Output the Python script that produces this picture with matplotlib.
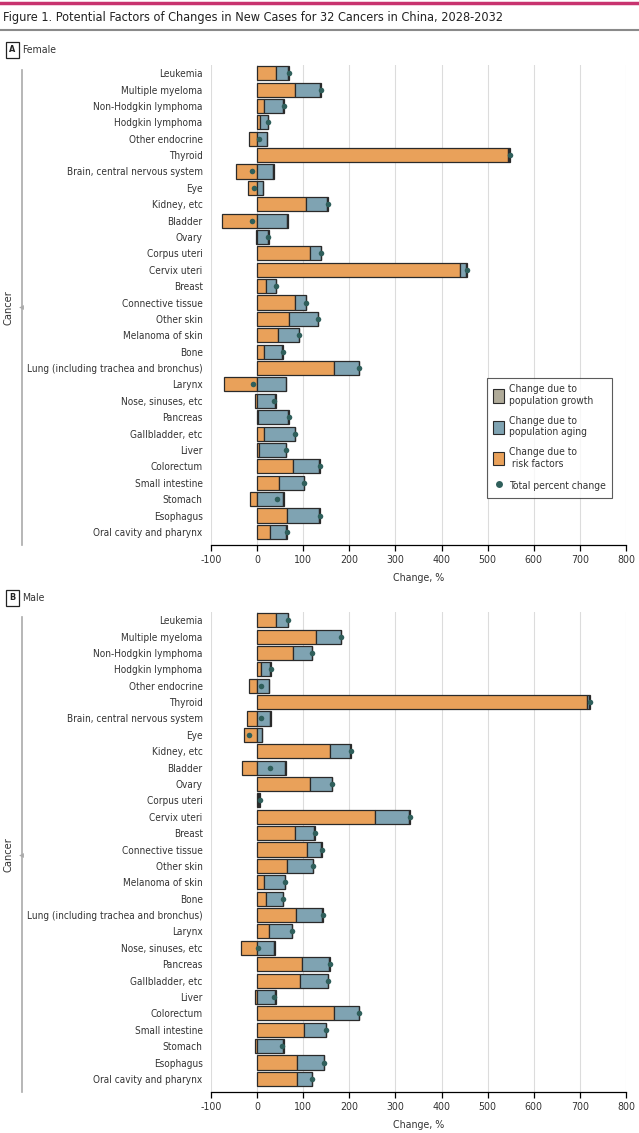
import matplotlib
matplotlib.use("Agg")
import matplotlib.pyplot as plt
from matplotlib.patches import Patch
from matplotlib.lines import Line2D
from matplotlib import font_manager as fm
import numpy as np

# pick a condensed face if one is installed
names = {f.name for f in fm.fontManager.ttflist}
FONT_SCALE = 1.0
if 'Liberation Sans Narrow' in names:
    plt.rcParams['font.family'] = ['Liberation Sans Narrow', 'DejaVu Sans']
    FONT_SCALE = 1.1
elif any(f.name == 'DejaVu Sans' and f.stretch == 'condensed' for f in fm.fontManager.ttflist):
    plt.rcParams['font.family'] = ['DejaVu Sans']
    plt.rcParams['font.stretch'] = 'condensed'
    FONT_SCALE = 1.0
else:
    plt.rcParams['font.family'] = ['Lato', 'DejaVu Sans']
    FONT_SCALE = 1.03

cancers = ["Leukemia", "Multiple myeloma", "Non-Hodgkin lymphoma", "Hodgkin lymphoma",
           "Other endocrine", "Thyroid", "Brain, central nervous system", "Eye",
           "Kidney, etc", "Bladder", "Ovary", "Corpus uteri", "Cervix uteri", "Breast",
           "Connective tissue", "Other skin", "Melanoma of skin", "Bone",
           "Lung (including trachea and bronchus)", "Larynx", "Nose, sinuses, etc",
           "Pancreas", "Gallbladder, etc", "Liver", "Colorectum", "Small intestine",
           "Stomach", "Esophagus", "Oral cavity and pharynx"]

# Female
f_risk  = [42, 83, 14, 7, -17, 544, -46, -19, 105, -76, -2, 115, 440, 19, 83,
           69, 46, 15, 166, -72, -4, 1, 15, 5, 78, 48, -15, 64, 28]
f_aging = [26, 54, 43, 16, 21, 3, 35, 12, 47, 65, 24, 23, 14, 21, 23,
           62, 44, 40, 54, 62, 39, 67, 67, 57, 57, 53, 57, 71, 35]
f_growth = [1, 1, 1, 1, 1, 1, 1, 1, 1, 1, 1, 1, 1, 1, 1,
            1, 1, 1, 1, 1, 1, 1, 1, 1, 1, 1, 1, 1, 1]

# Male
m_risk  = [42, 128, 78, 9, -17, 716, -21, -28, 159, -33, 114, 2, 256, 83, 109,
           65, 15, 20, 84, 25, -35, 98, 94, -4, 167, 102, -4, 87, 87]
m_aging = [24, 54, 40, 20, 25, 4, 29, 10, 43, 61, 48, 3, 74, 41, 30,
           56, 45, 36, 57, 50, 37, 58, 59, 39, 53, 47, 57, 57, 31]
m_growth = [1, 1, 1, 1, 1, 1, 1, 1, 1, 1, 1, 1, 1, 1, 1,
            1, 1, 1, 1, 1, 1, 1, 1, 1, 1, 1, 1, 1, 1]

xticks = [-100, 0, 100, 200, 300, 400, 500, 600, 700, 800]

C_ORANGE = "#E9A15A"
C_BLUE = "#7FA3B2"
C_GREY = "#B0AB99"
C_DOT = "#2F5F5B"
C_EDGE = "#2a2a2a"
C_TXT = "#333333"

W, H = 639, 1133
fig = plt.figure(figsize=(W / 100, H / 100), dpi=100)


def fx(px):
    return px / W


def fy(py):
    return 1 - py / H


def fs(v):
    return v * FONT_SCALE


def draw_panel(ax, risk, aging, growth):
    y = np.arange(len(cancers))
    pos = np.zeros(len(cancers))
    neg = np.zeros(len(cancers))
    for vals, col in ((risk, C_ORANGE), (aging, C_BLUE), (growth, C_GREY)):
        v = np.array(vals, dtype=float)
        left = np.where(v >= 0, pos, neg)
        ax.barh(y, v, left=left, height=0.86, color=col, edgecolor=C_EDGE,
                linewidth=0.9, zorder=3)
        pos = np.where(v >= 0, pos + v, pos)
        neg = np.where(v < 0, neg + v, neg)
    total = np.array(risk) + np.array(aging) + np.array(growth)
    ax.scatter(total, y, s=16, color=C_DOT, zorder=5, linewidths=0)
    ax.set_yticks(y)
    ax.set_yticklabels(cancers, fontsize=fs(7.2), color=C_TXT)
    ax.set_ylim(len(cancers) - 1 + 0.8, -0.5)
    ax.set_xlim(-100, 800)
    ax.set_xticks(xticks)
    ax.set_xticklabels([str(t) for t in xticks], fontsize=fs(7.6), color=C_TXT)
    ax.tick_params(axis='y', length=0, pad=6)
    ax.tick_params(axis='x', length=4, width=0.9, direction='out', pad=3)
    for s in ("top", "right", "left"):
        ax.spines[s].set_visible(False)
    ax.spines["bottom"].set_linewidth(0.9)
    ax.grid(axis='x', color="#dcdcdc", linewidth=0.8, zorder=0)
    ax.set_axisbelow(True)
    ax.set_xlabel("Change, %", fontsize=fs(7.6), color=C_TXT, labelpad=6)


axA = fig.add_axes([fx(211), fy(545), fx(415), 480 / H])
draw_panel(axA, f_risk, f_aging, f_growth)
axB = fig.add_axes([fx(211), fy(1092), fx(415), 480 / H])
draw_panel(axB, m_risk, m_aging, m_growth)

# legend in panel A
handles = [Patch(facecolor=C_GREY, edgecolor=C_EDGE, linewidth=0.8),
           Patch(facecolor=C_BLUE, edgecolor=C_EDGE, linewidth=0.8),
           Patch(facecolor=C_ORANGE, edgecolor=C_EDGE, linewidth=0.8),
           Line2D([0], [0], marker='o', color='none', markerfacecolor=C_DOT,
                  markeredgecolor='none', markersize=5)]
labels = ["Change due to\npopulation growth", "Change due to\npopulation aging",
          "Change due to\n risk factors", "Total percent change"]
leg = axA.legend(handles, labels, loc='upper left', bbox_to_anchor=(0.652, 0.358),
                 fontsize=fs(7.4), frameon=True, fancybox=False, edgecolor=C_TXT,
                 handlelength=1.1, handleheight=1.6, handletextpad=0.5,
                 labelspacing=0.95, borderpad=0.6, labelcolor=C_TXT)
leg.get_frame().set_linewidth(0.8)
leg.set_zorder(10)

# header
fig.add_artist(Line2D([0, 1], [fy(2.5), fy(2.5)], color="#C8336F", linewidth=2.5))
fig.text(fx(3), fy(17), "Figure 1. Potential Factors of Changes in New Cases for 32 Cancers in China, 2028-2032",
         fontsize=fs(9.1), color="#222222", va='center', ha='left')
fig.add_artist(Line2D([0, 1], [fy(30), fy(30)], color="#8a8a8a", linewidth=1.5))

for letter, name, py in (("A", "Female", 50), ("B", "Male", 598)):
    fig.text(fx(12.5), fy(py), letter, fontsize=fs(6.5), fontweight='bold', ha='center', va='center',
             color="#222222",
             bbox=dict(boxstyle='square,pad=0.35', facecolor='white', edgecolor="#222222", linewidth=0.9))
    fig.text(fx(22), fy(py), name, fontsize=fs(7.6), ha='left', va='center', color=C_TXT)

# Cancer bracket labels
for top, bot in ((70, 545), (617, 1092)):
    mid = (top + bot) / 2
    fig.add_artist(Line2D([fx(22), fx(22)], [fy(top), fy(bot)], color="#aaaaaa", linewidth=1.2))
    fig.add_artist(Line2D([fx(20.5)], [fy(mid)], marker='<', markersize=3.5, color="#aaaaaa",
                          markeredgewidth=0))
    fig.text(fx(8), fy(mid), "Cancer", rotation=90, fontsize=fs(7.9), ha='center', va='center',
             color=C_TXT)

fig.savefig("out.png", dpi=100)
